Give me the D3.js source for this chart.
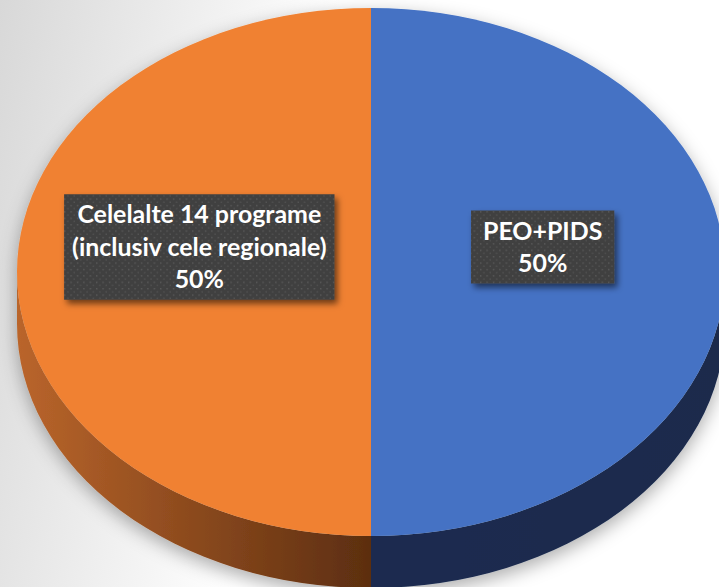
<!DOCTYPE html>
<html>
<head>
<meta charset="utf-8">
<script src="https://cdn.jsdelivr.net/npm/d3@7"></script>
<style>
html,body{margin:0;padding:0;background:#fff;}
svg{display:block;}
</style>
</head>
<body>
<svg id="chart" width="719" height="587"></svg>
<script>
// ---- data ----
const categories = ["PEO+PIDS", "Celelalte 14 programe (inclusiv cele regionale)"];
const values = [50, 50];
const labelLines = [["PEO+PIDS", "50%"], ["Celelalte 14 programe", "(inclusiv cele regionale)", "50%"]];
const topColors = ["#4472C4", "#F08132"];
const wallColors = [["#1b2c50", "#1a2a4c"], ["#5c2e10", "#ba652b"]];

// ---- layout ----
const W = 719, H = 587;
const cx = 371, cy = 272, rx = 354, ry = 264, depth = 52;

const svg = d3.select("#chart");
const defs = svg.append("defs");

// background gradient
const bg = defs.append("linearGradient").attr("id","bg")
  .attr("gradientUnits","userSpaceOnUse").attr("x1",0).attr("y1",0).attr("x2",330).attr("y2",60);
bg.append("stop").attr("offset","0%").attr("stop-color","#d8d8d8");
bg.append("stop").attr("offset","100%").attr("stop-color","#ffffff");
svg.append("rect").attr("width",W).attr("height",H).attr("fill","url(#bg)");

// pie shadow
const sh = defs.append("filter").attr("id","pieShadow").attr("x","-20%").attr("y","-20%").attr("width","140%").attr("height","140%");
sh.append("feDropShadow").attr("dx",0).attr("dy",6).attr("stdDeviation",9)
  .attr("flood-color","#000").attr("flood-opacity",0.32);

// label shadow
const lsh = defs.append("filter").attr("id","lblShadow").attr("x","-20%").attr("y","-20%").attr("width","140%").attr("height","150%");
lsh.append("feDropShadow").attr("dx",3).attr("dy",4).attr("stdDeviation",3)
  .attr("flood-color","#000").attr("flood-opacity",0.55);

// dot pattern
const pat = defs.append("pattern").attr("id","dots").attr("patternUnits","userSpaceOnUse")
  .attr("width",6.4).attr("height",6.4);
pat.append("rect").attr("width",6.4).attr("height",6.4).attr("fill","#404040");
pat.append("rect").attr("x",0).attr("y",0).attr("width",1.4).attr("height",1.4).attr("fill","#5a5a5a");
pat.append("rect").attr("x",3.2).attr("y",3.2).attr("width",1.4).attr("height",1.4).attr("fill","#525252");

// wall gradients
wallColors.forEach((c,i)=>{
  const g = defs.append("linearGradient").attr("id","wall"+i)
    .attr("gradientUnits","userSpaceOnUse").attr("x1",cx).attr("y1",0)
    .attr("x2", i===0 ? cx+rx : cx-rx).attr("y2",0);
  g.append("stop").attr("offset","0%").attr("stop-color",c[0]);
  g.append("stop").attr("offset","100%").attr("stop-color",c[1]);
});

const pie = d3.pie().sort(null).value(d=>d);
const arcs = pie(values);

const pt = (a, dy=0) => [cx + rx*Math.sin(a), cy - ry*Math.cos(a) + dy];

const pieG = svg.append("g").attr("filter","url(#pieShadow)");

// walls (front half only: angles between PI/2 and 3PI/2)
arcs.forEach((d,i)=>{
  const a0 = Math.max(d.startAngle, Math.PI/2);
  const a1 = Math.min(d.endAngle, 3*Math.PI/2);
  if (a1 <= a0) return;
  const p0 = pt(a0), p1 = pt(a1), p1b = pt(a1, depth), p0b = pt(a0, depth);
  const large = (a1 - a0) > Math.PI ? 1 : 0;
  const path = `M${p0[0]},${p0[1]} A${rx},${ry} 0 ${large} 1 ${p1[0]},${p1[1]} L${p1b[0]},${p1b[1]} A${rx},${ry} 0 ${large} 0 ${p0b[0]},${p0b[1]} Z`;
  pieG.append("path").attr("d",path).attr("fill",`url(#wall${i})`);
});

// top faces via d3.arc scaled into ellipse
const arcGen = d3.arc().innerRadius(0).outerRadius(rx);
const topG = pieG.append("g").attr("transform",`translate(${cx},${cy}) scale(1,${ry/rx})`);
topG.selectAll("path.slice").data(arcs).join("path")
  .attr("class","slice").attr("d",arcGen)
  .attr("fill",(d,i)=>topColors[i]);

// labels
const fontFamily = "Lato, 'Open Sans', sans-serif";
const lineH = 32.5, padX = 8, padY = 8;
// fit font size so first line of longest label matches reference width
const probe = svg.append("text").attr("font-family",fontFamily).attr("font-weight",700)
  .attr("font-size",22).text(labelLines[1][0]);
const fs = 22 * 244 / probe.node().getComputedTextLength();
probe.remove();

arcs.forEach((d,i)=>{
  const mid = (d.startAngle + d.endAngle)/2;
  const lx = cx + Math.sin(mid)*rx*0.485;
  const ly = cy - Math.cos(mid)*ry*0.48 - 25;
  const g = svg.append("g");
  const box = g.append("rect").attr("fill","url(#dots)").attr("filter","url(#lblShadow)");
  const lines = labelLines[i];
  const t = g.append("text").attr("font-family",fontFamily).attr("font-weight",700)
    .attr("font-size",fs).attr("fill","#ffffff").attr("text-anchor","middle");
  let maxW = 0;
  lines.forEach((s,k)=>{
    const ts = t.append("tspan").attr("x",lx)
      .attr("y", ly + (k - (lines.length-1)/2)*lineH + 0.36*fs).text(s);
    maxW = Math.max(maxW, ts.node().getComputedTextLength());
  });
  const bw = maxW + 2*padX + (lines.length < 3 ? 8 : 0), bh = lines.length*lineH + padY;
  box.attr("x", lx - bw/2).attr("y", ly - bh/2).attr("width", bw).attr("height", bh);
});
</script>
</body>
</html>
